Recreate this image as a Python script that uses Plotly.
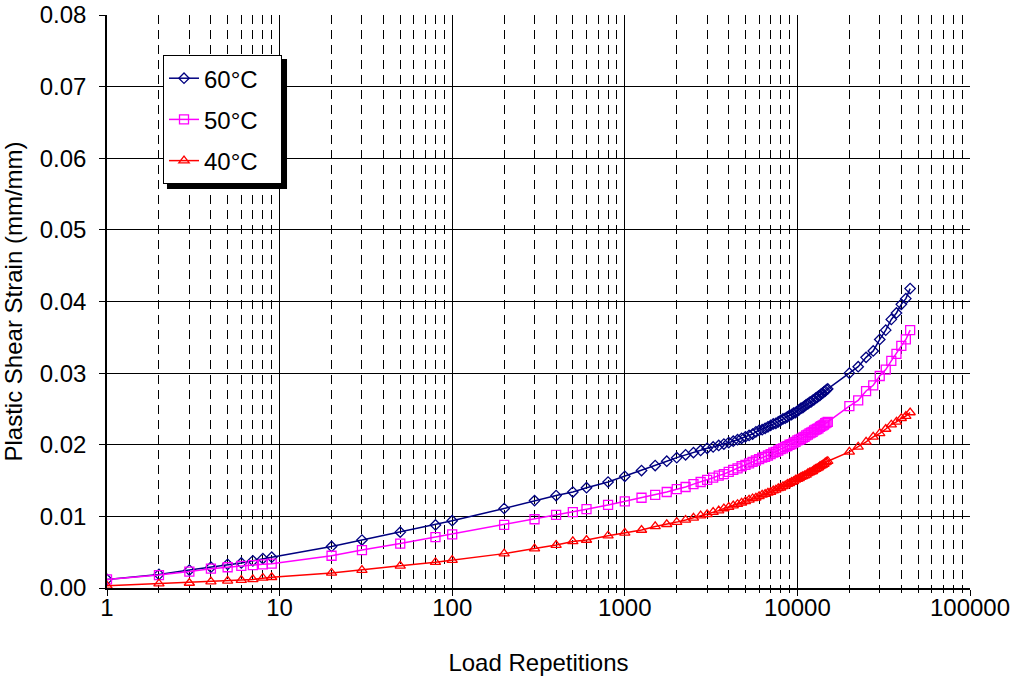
import plotly.graph_objects as go

# ---------------- data ----------------
N_low = [1, 2, 3, 4, 5, 6, 7, 8, 9, 20, 30, 50, 80, 100, 200, 300, 400, 500, 600, 800]
N_mid = list(range(1000, 15001, 250))
N_high = list(range(20000, 45001, 2500))
load_reps = N_low + N_mid + N_high

strain_60_low = [0.0012, 0.0019, 0.0025, 0.0029, 0.0033, 0.0035, 0.0038, 0.0041, 0.0043,
                 0.0058, 0.0067, 0.0078, 0.0088, 0.0094, 0.0111, 0.0122, 0.0129, 0.0134, 0.0140, 0.0148]
strain_60_mid = [0.0156, 0.0164, 0.0171, 0.0177, 0.0182, 0.0186, 0.0189, 0.0192, 0.0195, 0.0197,
                 0.0199, 0.0201, 0.0203, 0.0205, 0.0207, 0.0209, 0.0211, 0.0213, 0.0215, 0.0218,
                 0.0220, 0.0221, 0.0223, 0.0225, 0.0227, 0.0229, 0.0230, 0.0232, 0.0234, 0.0236,
                 0.0237, 0.0239, 0.0241, 0.0242, 0.0244, 0.0245, 0.0247, 0.0249, 0.0251, 0.0252,
                 0.0254, 0.0256, 0.0257, 0.0259, 0.0260, 0.0262, 0.0263, 0.0265, 0.0266, 0.0268,
                 0.0269, 0.0271, 0.0272, 0.0274, 0.0275, 0.0277, 0.0278]
strain_60_high = [0.0300, 0.0309, 0.0322, 0.0331, 0.0347, 0.0360, 0.0375, 0.0384, 0.0396, 0.0404, 0.0418]

strain_50_low = [0.0012, 0.0018, 0.0023, 0.0027, 0.0029, 0.0031, 0.0032, 0.0033, 0.0034,
                 0.0045, 0.0053, 0.0062, 0.0071, 0.0075, 0.0088, 0.0096, 0.0102, 0.0106, 0.0110, 0.0116]
strain_50_mid = [0.0121, 0.0126, 0.0130, 0.0134, 0.0138, 0.0141, 0.0145, 0.0148, 0.0151, 0.0154,
                 0.0157, 0.0159, 0.0162, 0.0165, 0.0167, 0.0170, 0.0172, 0.0174, 0.0176, 0.0178,
                 0.0180, 0.0182, 0.0183, 0.0185, 0.0187, 0.0189, 0.0190, 0.0192, 0.0194, 0.0195,
                 0.0197, 0.0198, 0.0200, 0.0201, 0.0203, 0.0204, 0.0206, 0.0207, 0.0208, 0.0210,
                 0.0211, 0.0213, 0.0214, 0.0216, 0.0217, 0.0218, 0.0220, 0.0221, 0.0222, 0.0223,
                 0.0225, 0.0226, 0.0227, 0.0228, 0.0230, 0.0231, 0.0232]
strain_50_high = [0.0254, 0.0262, 0.0275, 0.0283, 0.0296, 0.0305, 0.0317, 0.0327, 0.0338, 0.0347, 0.0360]

strain_40_low = [0.0003, 0.0006, 0.0007, 0.0009, 0.0010, 0.0011, 0.0012, 0.0014, 0.0015,
                 0.0021, 0.0025, 0.0031, 0.0036, 0.0039, 0.0048, 0.0055, 0.0060, 0.0065, 0.0067, 0.0073]
strain_40_mid = [0.0077, 0.0081, 0.0086, 0.0089, 0.0092, 0.0095, 0.0098, 0.0101, 0.0103, 0.0106,
                 0.0108, 0.0111, 0.0113, 0.0115, 0.0117, 0.0119, 0.0121, 0.0123, 0.0125, 0.0126,
                 0.0128, 0.0130, 0.0131, 0.0133, 0.0134, 0.0136, 0.0137, 0.0139, 0.0140, 0.0142,
                 0.0143, 0.0145, 0.0146, 0.0148, 0.0149, 0.0151, 0.0152, 0.0153, 0.0155, 0.0156,
                 0.0157, 0.0158, 0.0160, 0.0161, 0.0162, 0.0163, 0.0165, 0.0166, 0.0167, 0.0168,
                 0.0170, 0.0171, 0.0172, 0.0173, 0.0175, 0.0176, 0.0177]
strain_40_high = [0.0190, 0.0197, 0.0204, 0.0211, 0.0216, 0.0222, 0.0228, 0.0232, 0.0237, 0.0240, 0.0245]

PAD = "\u00a0\u00a0\u2009"
series = [
    ("60°C", strain_60_low + strain_60_mid + strain_60_high, "#000080", "diamond-open", 8),
    ("50°C", strain_50_low + strain_50_mid + strain_50_high, "#FF00FF", "square-open", 9),
    ("40°C", strain_40_low + strain_40_mid + strain_40_high, "#FF0000", "triangle-up-open", 9),
]

x_tick_vals = [1, 10, 100, 1000, 10000, 100000]
x_tick_text = ["1", "10", "100", "1000", "10000", "100000"]
y_tick_vals = [0.00, 0.01, 0.02, 0.03, 0.04, 0.05, 0.06, 0.07, 0.08]

FONT = "Liberation Sans, Arial, sans-serif"
FS = 24

fig = go.Figure()
for name, vals, color, sym, size in series:
    fig.add_trace(go.Scatter(
        x=load_reps, y=vals, name=name + PAD, legendgroup=name, mode="lines+markers",
        line=dict(color=color, width=1.5),
        marker=dict(symbol=sym, size=size, color=color, line=dict(width=1.3, color=color)),
    ))

# legend shadow
fig.add_shape(type="rect", xref="paper", yref="paper",
              x0=0.0695, x1=0.2086, y0=0.6963, y1=0.9232,
              fillcolor="black", line=dict(width=0), layer="above")

fig.update_layout(
    width=1016, height=676,
    margin=dict(l=107, r=46, t=15, b=88, autoexpand=False),
    paper_bgcolor="white", plot_bgcolor="white",
    font=dict(family=FONT, size=FS, color="black"),
    showlegend=True,
    legend=dict(x=0.0649, y=0.930, xanchor="left", yanchor="top",
                bgcolor="white", bordercolor="black", borderwidth=1,
                font=dict(family=FONT, size=FS), itemwidth=30,
                tracegroupgap=7),
    xaxis=dict(
        type="log", range=[0, 5], automargin=False,
        tickvals=x_tick_vals, ticktext=x_tick_text,
        showgrid=True, gridcolor="black", gridwidth=1,
        showline=True, linecolor="black", linewidth=1.5,
        ticks="outside", ticklen=6, tickcolor="black",
        tickfont=dict(size=FS), ticklabelstandoff=-9,
        minor=dict(dtick="D1", showgrid=True, gridcolor="black", gridwidth=1,
                   griddash="9px,6px", ticks="outside", ticklen=3, tickcolor="black"),
        title=dict(text="Load Repetitions", font=dict(size=FS), standoff=35),
        zeroline=False,
    ),
    yaxis=dict(
        range=[0, 0.08], tickvals=y_tick_vals, tickformat=".2f", automargin=False,
        showgrid=True, gridcolor="black", gridwidth=1,
        showline=True, linecolor="black", linewidth=1.5,
        ticks="outside", ticklen=6, tickcolor="black",
        tickfont=dict(size=FS), ticklabelstandoff=8,
        title=dict(text="Plastic Shear Strain (mm/mm)", font=dict(size=FS), standoff=10),
        zeroline=False,
    ),
)

fig.write_html("out.html")
